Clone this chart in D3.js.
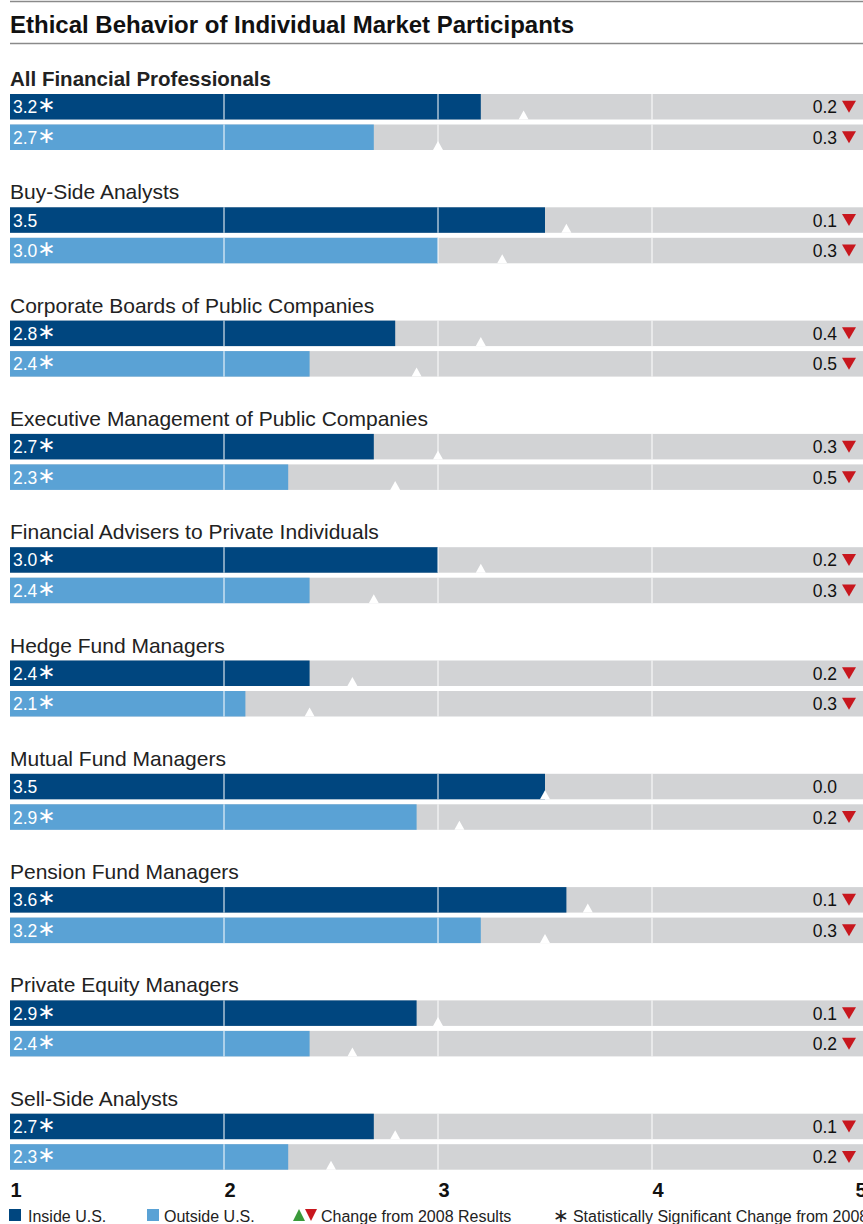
<!DOCTYPE html>
<html>
<head>
<meta charset="utf-8">
<script src="https://cdn.jsdelivr.net/npm/d3@7"></script>
<style>
  body { margin: 0; background: #fff; }
  svg { display: block; font-family: "Liberation Sans", Arial, sans-serif; }
</style>
</head>
<body>
<svg id="chart" width="863" height="1224"></svg>
<script>
// Chart data
const categories = [
  "All Financial Professionals",
  "Buy-Side Analysts",
  "Corporate Boards of Public Companies",
  "Executive Management of Public Companies",
  "Financial Advisers to Private Individuals",
  "Hedge Fund Managers",
  "Mutual Fund Managers",
  "Pension Fund Managers",
  "Private Equity Managers",
  "Sell-Side Analysts"
];
const insideValues = [3.2, 3.5, 2.8, 2.7, 3.0, 2.4, 3.5, 3.6, 2.9, 2.7];
const outsideValues = [2.7, 3.0, 2.4, 2.3, 2.4, 2.1, 2.9, 3.2, 2.4, 2.3];
// change from 2008 (negative = down)
const insideChange = [-0.2, -0.1, -0.4, -0.3, -0.2, -0.2, 0.0, -0.1, -0.1, -0.1];
const outsideChange = [-0.3, -0.3, -0.5, -0.5, -0.3, -0.3, -0.2, -0.3, -0.2, -0.2];
// statistically significant flags
const insideSig = [true, false, true, true, true, true, false, true, true, true];
const outsideSig = [true, true, true, true, true, true, true, true, true, true];
const tickValues = [1, 2, 3, 4, 5];

const colors = {
  inside: "#00467f",
  outside: "#5aa2d5",
  track: "#d2d3d5",
  down: "#c8171e",
  up: "#3a9a3a"
};

const svg = d3.select("#chart");
const width = 863;

const x = d3.scaleLinear().domain([1, 5]).range([10, 866]);
const groupY = d3.scaleBand()
  .domain(categories)
  .range([94, 94 + 113.3 * categories.length]);

const barH = 25.5, rowGap = 5;

// title with rules
svg.append("line")
  .attr("x1", 10).attr("x2", width).attr("y1", 1.5).attr("y2", 1.5)
  .attr("stroke", "#8a8a8a").attr("stroke-width", 1.6);
svg.append("text")
  .attr("x", 10).attr("y", 32.5)
  .attr("font-size", "24px").attr("font-weight", "bold").attr("fill", "#111")
  .text("Ethical Behavior of Individual Market Participants");
svg.append("line")
  .attr("x1", 10).attr("x2", width).attr("y1", 43.5).attr("y2", 43.5)
  .attr("stroke", "#8a8a8a").attr("stroke-width", 1.6);

// build rows
const rows = [];
categories.forEach((c, i) => {
  rows.push({ cat: c, i: i, row: 0, value: insideValues[i], change: insideChange[i], sig: insideSig[i], color: colors.inside });
  rows.push({ cat: c, i: i, row: 1, value: outsideValues[i], change: outsideChange[i], sig: outsideSig[i], color: colors.outside });
});
const rowTop = (d) => groupY(d.cat) + d.row * (barH + rowGap);

// category labels
svg.append("g").selectAll("text")
  .data(categories)
  .join("text")
  .attr("x", 10)
  .attr("y", (d) => groupY(d) - 8)
  .attr("font-size", (d, i) => (i === 0 ? "20.5px" : "21px"))
  .attr("font-weight", (d, i) => (i === 0 ? "bold" : "normal"))
  .attr("fill", "#222")
  .text((d) => d);

const rowG = svg.append("g").selectAll("g")
  .data(rows)
  .join("g")
  .attr("transform", (d) => `translate(0,${rowTop(d)})`);

// gray track
rowG.append("rect")
  .attr("x", x(1)).attr("y", 0)
  .attr("width", width - x(1)).attr("height", barH)
  .attr("fill", colors.track);

// value bar
rowG.append("rect")
  .attr("x", x(1)).attr("y", 0)
  .attr("width", (d) => x(d.value) - x(1)).attr("height", barH)
  .attr("fill", (d) => d.color);

// white gridlines at 2, 3, 4
rowG.selectAll("line.grid")
  .data([2, 3, 4])
  .join("line")
  .attr("class", "grid")
  .attr("x1", (v) => x(v)).attr("x2", (v) => x(v))
  .attr("y1", 0).attr("y2", barH)
  .attr("stroke", "#fff").attr("stroke-width", 1);

// 2008 marker: white notch at the bottom of the bar
rowG.append("path")
  .attr("d", (d) => {
    const px = x(d.value - d.change);
    return `M${px - 5},${barH} L${px},${barH - 9} L${px + 5},${barH} Z`;
  })
  .attr("fill", "#fff");

// value label
const valText = rowG.append("text")
  .attr("x", 13).attr("y", barH / 2 + 6.5)
  .attr("font-size", "17.5px").attr("fill", "#fff")
  .text((d) => d.value.toFixed(1));
valText.filter((d) => d.sig).append("tspan")
  .attr("font-family", "DejaVu Sans")
  .attr("font-size", "22px")
  .attr("dx", 0).attr("dy", -1)
  .text("\u2217");

// change label
rowG.append("text")
  .attr("x", 837)
  .attr("y", barH / 2 + 6.5)
  .attr("text-anchor", "end")
  .attr("font-size", "17.5px").attr("fill", "#111")
  .text((d) => Math.abs(d.change).toFixed(1));

rowG.filter((d) => d.change !== 0).append("path")
  .attr("d", (d) => {
    const cx = 849, cy = barH / 2;
    return d.change < 0
      ? `M${cx - 7},${cy - 6} L${cx + 7},${cy - 6} L${cx},${cy + 6} Z`
      : `M${cx - 7},${cy + 6} L${cx + 7},${cy + 6} L${cx},${cy - 6} Z`;
  })
  .attr("fill", (d) => (d.change < 0 ? colors.down : colors.up));

// axis
const axis = svg.append("g")
  .attr("transform", "translate(0,1180)")
  .call(d3.axisBottom(x).tickValues(tickValues).tickSize(0).tickFormat(d3.format("d")));
axis.select(".domain").remove();
axis.selectAll("text")
  .attr("text-anchor", "start")
  .attr("dx", (v) => (v === 5 ? -11 : 0))
  .attr("dy", 0).attr("y", 17)
  .attr("font-family", "Liberation Sans, Arial, sans-serif")
  .attr("font-size", "20px").attr("font-weight", "bold").attr("fill", "#111");

// legend
const legend = svg.append("g").attr("transform", "translate(0,1222)");
legend.append("rect").attr("x", 9).attr("y", -13).attr("width", 12).attr("height", 12).attr("fill", colors.inside);
legend.append("text").attr("x", 28).attr("y", 0).attr("font-size", "16px").attr("fill", "#222").text("Inside U.S.");
legend.append("rect").attr("x", 147).attr("y", -13).attr("width", 12).attr("height", 12).attr("fill", colors.outside);
legend.append("text").attr("x", 164).attr("y", 0).attr("font-size", "16px").attr("fill", "#222").text("Outside U.S.");
legend.append("path").attr("d", "M293,-1 L305,-1 L299,-13 Z").attr("fill", colors.up);
legend.append("path").attr("d", "M305,-13 L317,-13 L311,-1 Z").attr("fill", colors.down);
legend.append("text").attr("x", 321).attr("y", 0).attr("font-size", "16px").attr("fill", "#222").text("Change from 2008 Results");
const sigText = legend.append("text").attr("x", 553).attr("y", 0).attr("font-size", "16px").attr("fill", "#222");
sigText.append("tspan").attr("font-family", "DejaVu Sans").attr("font-size", "19px").text("\u2217");
sigText.append("tspan").attr("dx", 4).text("Statistically Significant Change from 2008");
</script>
</body>
</html>
